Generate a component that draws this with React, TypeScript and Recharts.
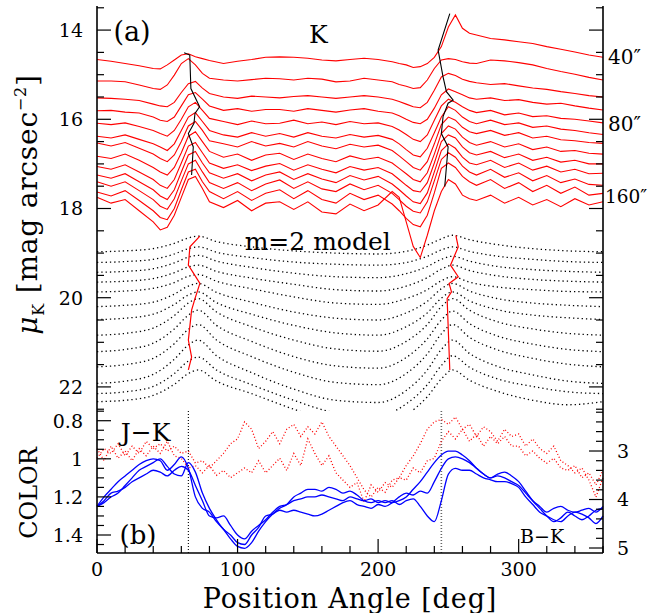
import React from "react";
import { ComposedChart, Line, XAxis, YAxis, ReferenceDot, ReferenceLine, Label } from "recharts";

const SERIF = '"DejaVu Serif", "Liberation Serif", serif';

// ---- panel (a): K-band surface brightness profiles, radii 40" .. 160" (step 10")
const kAngles = [
  0, 10, 20, 30, 40,
  45, 50, 55, 60, 65, 70, 75, 80,
  90, 100, 110, 120, 130, 140, 150, 160, 170, 180, 190, 200, 210,
  215, 220, 225, 230, 235, 240, 245, 250, 255, 260, 265, 270,
  280, 290, 300, 310, 320, 330, 340, 350, 360,
];

const k40 = [14.66, 14.7, 14.75, 14.8, 14.86,
  14.87, 14.78, 14.67, 14.56, 14.53, 14.6, 14.64, 14.68,
  14.75, 14.7, 14.66, 14.61, 14.6, 14.61, 14.63, 14.67, 14.69, 14.66, 14.63, 14.66, 14.71,
  14.75, 14.78, 14.84, 14.82, 14.75, 14.61, 14.37, 13.93, 13.66, 13.96, 14.07, 14.11,
  14.19, 14.22, 14.26, 14.3, 14.37, 14.43, 14.49, 14.56, 14.61];
const k50 = [15.14, 15.14, 15.16, 15.23, 15.31,
  15.33, 15.23, 15.01, 14.75, 14.64, 14.78, 14.97, 15.08,
  15.12, 15.14, 15.11, 15.08, 15.09, 15.12, 15.08, 15.1, 15.16, 15.14, 15.08, 15.12, 15.16,
  15.22, 15.26, 15.31, 15.29, 15.12, 14.86, 14.67, 14.64, 14.66, 14.71, 14.74, 14.75,
  14.67, 14.69, 14.73, 14.78, 14.86, 14.93, 14.99, 15.06, 15.12];
const k60 = [15.52, 15.53, 15.55, 15.58, 15.66,
  15.7, 15.72, 15.62, 15.4, 15.2, 15.15, 15.3, 15.42,
  15.5, 15.53, 15.48, 15.5, 15.52, 15.49, 15.47, 15.5, 15.53, 15.5, 15.47, 15.5, 15.55,
  15.6, 15.66, 15.72, 15.74, 15.62, 15.35, 15.05, 14.97, 15.02, 15.1, 15.15, 15.18,
  15.22, 15.2, 15.25, 15.3, 15.33, 15.38, 15.42, 15.47, 15.5];
const k70 = [15.81, 15.8, 15.84, 15.86, 15.95,
  16.02, 16.05, 15.95, 15.7, 15.45, 15.4, 15.55, 15.7,
  15.8, 15.76, 15.82, 15.78, 15.78, 15.82, 15.76, 15.8, 15.84, 15.79, 15.76, 15.82, 15.86,
  15.92, 16.0, 16.07, 16.1, 16.0, 15.75, 15.45, 15.32, 15.38, 15.45, 15.52, 15.55,
  15.52, 15.58, 15.56, 15.62, 15.66, 15.64, 15.7, 15.75, 15.79];
const k80 = [16.09, 16.12, 16.08, 16.16, 16.25,
  16.32, 16.38, 16.25, 16.0, 15.72, 15.62, 15.8, 15.98,
  16.05, 16.12, 16.04, 16.1, 16.09, 16.02, 16.1, 16.06, 16.12, 16.05, 16.1, 16.08, 16.16,
  16.24, 16.34, 16.45, 16.5, 16.35, 16.02, 15.7, 15.55, 15.62, 15.72, 15.8, 15.85,
  15.8, 15.9, 15.86, 15.94, 15.92, 15.98, 16.0, 16.04, 16.08];
const k90 = [16.38, 16.42, 16.35, 16.45, 16.55,
  16.62, 16.7, 16.55, 16.25, 15.95, 15.85, 16.05, 16.25,
  16.35, 16.4, 16.3, 16.38, 16.32, 16.4, 16.3, 16.38, 16.42, 16.34, 16.4, 16.36, 16.45,
  16.55, 16.68, 16.8, 16.84, 16.65, 16.3, 15.95, 15.72, 15.8, 15.95, 16.05, 16.1,
  16.02, 16.12, 16.08, 16.18, 16.15, 16.22, 16.25, 16.3, 16.34];
const k100 = [16.53, 16.6, 16.52, 16.65, 16.78,
  16.88, 16.95, 16.8, 16.5, 16.15, 16.05, 16.25, 16.48,
  16.55, 16.62, 16.5, 16.6, 16.54, 16.62, 16.5, 16.6, 16.66, 16.56, 16.62, 16.58, 16.7,
  16.82, 16.95, 17.08, 17.14, 16.95, 16.55, 16.12, 15.95, 16.02, 16.18, 16.28, 16.32,
  16.25, 16.36, 16.3, 16.42, 16.38, 16.46, 16.48, 16.52, 16.54];
const k110 = [16.83, 16.88, 16.78, 16.92, 17.08,
  17.18, 17.25, 17.08, 16.75, 16.38, 16.28, 16.5, 16.72,
  16.85, 16.78, 16.92, 16.8, 16.76, 16.9, 16.78, 16.88, 16.95, 16.82, 16.9, 16.85, 16.98,
  17.1, 17.22, 17.35, 17.4, 17.2, 16.78, 16.32, 16.15, 16.22, 16.4, 16.52, 16.58,
  16.5, 16.62, 16.55, 16.68, 16.62, 16.72, 16.7, 16.76, 16.78];
const k120 = [17.06, 17.12, 17.02, 17.18, 17.35,
  17.48, 17.55, 17.35, 16.98, 16.6, 16.52, 16.75, 16.98,
  17.1, 17.02, 17.15, 17.05, 16.99, 17.14, 17.02, 17.12, 17.2, 17.06, 17.14, 17.08, 17.22,
  17.35, 17.48, 17.6, 17.63, 17.42, 16.98, 16.5, 16.35, 16.42, 16.62, 16.75, 16.8,
  16.72, 16.86, 16.78, 16.92, 16.85, 16.96, 16.92, 17.0, 17.0];
const k130 = [17.25, 17.32, 17.22, 17.4, 17.58,
  17.72, 17.8, 17.58, 17.18, 16.8, 16.72, 16.98, 17.2,
  17.32, 17.22, 17.38, 17.25, 17.18, 17.35, 17.22, 17.34, 17.42, 17.26, 17.36, 17.28, 17.45,
  17.58, 17.72, 17.85, 17.89, 17.65, 17.18, 16.7, 16.55, 16.65, 16.85, 16.98, 17.02,
  16.92, 17.08, 16.98, 17.14, 17.05, 17.18, 17.12, 17.22, 17.21];
const k140 = [17.4, 17.5, 17.4, 17.6, 17.8,
  17.95, 18.02, 17.78, 17.38, 17.0, 16.92, 17.18, 17.42,
  17.55, 17.42, 17.6, 17.45, 17.36, 17.55, 17.4, 17.56, 17.62, 17.45, 17.58, 17.48, 17.66,
  17.8, 17.95, 18.06, 18.1, 17.85, 17.38, 16.9, 16.75, 16.85, 17.05, 17.18, 17.25,
  17.12, 17.3, 17.2, 17.38, 17.26, 17.42, 17.34, 17.46, 17.48];
const k150 = [17.63, 17.72, 17.6, 17.82, 18.05,
  18.2, 18.25, 18.0, 17.58, 17.18, 17.12, 17.4, 17.62,
  17.78, 17.62, 17.82, 17.66, 17.58, 17.78, 17.6, 17.8, 17.88, 17.66, 17.8, 17.7, 17.9,
  18.05, 18.22, 18.36, 18.41, 18.15, 17.65, 17.1, 16.98, 17.08, 17.28, 17.4, 17.48,
  17.35, 17.55, 17.42, 17.62, 17.48, 17.66, 17.52, 17.7, 17.66];
const k160 = [17.75, 17.88, 17.8, 18.05, 18.3,
  18.48, 18.42, 18.15, 17.75, 17.35, 17.28, 17.55, 17.85,
  17.98, 17.82, 18.05, 17.88, 17.85, 18.02, 17.85, 18.08, 18.12, 17.9, 18.05, 17.92, 17.62,
  17.75, 18.3, 18.85, 19.1, 18.6, 18.05, 17.62, 17.35, 17.45, 17.7, 17.78, 17.82,
  17.7, 17.88, 17.75, 17.92, 17.8, 17.96, 17.78, 17.92, 17.85];
const kProfiles = [k40, k50, k60, k70, k80, k90, k100, k110, k120, k130, k140, k150, k160];

// m=2 model profiles (dotted)
const mAngles = [0, 20, 40, 55, 65, 72, 85, 110, 140, 170, 200, 220, 235, 245, 253, 265, 285, 310, 335, 360];
const m40 = [18.97, 18.95, 18.9, 18.78, 18.66, 18.62, 18.74, 18.86, 18.95, 19.0, 19.02, 18.96, 18.82, 18.68, 18.6, 18.7, 18.81, 18.9, 18.95, 18.97];
const m50 = [19.21, 19.19, 19.14, 19.02, 18.9, 18.86, 18.98, 19.1, 19.2, 19.25, 19.27, 19.21, 19.07, 18.93, 18.86, 18.96, 19.07, 19.14, 19.19, 19.21];
const m60 = [19.43, 19.41, 19.35, 19.22, 19.09, 19.05, 19.18, 19.32, 19.45, 19.53, 19.55, 19.46, 19.3, 19.14, 19.07, 19.18, 19.3, 19.37, 19.41, 19.43];
const m70 = [19.65, 19.63, 19.57, 19.44, 19.31, 19.27, 19.41, 19.56, 19.7, 19.82, 19.85, 19.74, 19.55, 19.36, 19.27, 19.39, 19.51, 19.59, 19.63, 19.65];
const m80 = [19.87, 19.85, 19.79, 19.66, 19.52, 19.48, 19.63, 19.8, 19.98, 20.12, 20.15, 20.02, 19.82, 19.62, 19.53, 19.65, 19.76, 19.82, 19.86, 19.87];
const m90 = [20.2, 20.17, 20.1, 19.92, 19.74, 19.68, 19.88, 20.1, 20.32, 20.46, 20.5, 20.34, 20.08, 19.8, 19.68, 19.85, 20.02, 20.12, 20.17, 20.2];
const m100 = [20.49, 20.46, 20.37, 20.15, 19.94, 19.87, 20.11, 20.37, 20.62, 20.79, 20.84, 20.65, 20.34, 20.01, 19.87, 20.07, 20.27, 20.39, 20.45, 20.49];
const m110 = [20.84, 20.8, 20.68, 20.4, 20.12, 20.02, 20.32, 20.65, 20.95, 21.15, 21.2, 20.98, 20.6, 20.2, 20.02, 20.28, 20.54, 20.7, 20.8, 20.84];
const m120 = [21.21, 21.16, 21.02, 20.7, 20.39, 20.28, 20.62, 20.98, 21.32, 21.53, 21.58, 21.34, 20.92, 20.5, 20.3, 20.58, 20.86, 21.04, 21.16, 21.21];
const m130 = [21.55, 21.5, 21.36, 21.03, 20.71, 20.6, 20.95, 21.32, 21.67, 21.9, 21.95, 21.7, 21.26, 20.81, 20.6, 20.89, 21.17, 21.36, 21.49, 21.55];
const m140 = [21.92, 21.87, 21.72, 21.38, 21.06, 20.95, 21.3, 21.68, 22.05, 22.3, 22.35, 22.08, 21.62, 21.16, 20.95, 21.25, 21.54, 21.73, 21.87, 21.92];
const m150 = [22.15, 22.11, 21.99, 21.7, 21.42, 21.33, 21.62, 21.95, 22.3, 22.58, 22.65, 22.38, 21.95, 21.52, 21.3, 21.56, 21.82, 21.99, 22.11, 22.15];
const m160 = [22.33, 22.3, 22.19, 21.94, 21.7, 21.62, 21.87, 22.15, 22.5, 22.8, 22.9, 22.63, 22.22, 21.82, 21.62, 21.85, 22.1, 22.3, 22.4, 22.33];
const mProfiles = [m40, m50, m60, m70, m80, m90, m100, m110, m120, m130, m140, m150, m160];

// arm peak tracks
const kPeakLeftA = [62, 66, 66.8, 73, 69.7, 69, 65, 68.5, 67.3];
const kPeakLeftV = [14.51, 14.56, 15.31, 15.72, 15.87, 16.09, 16.32, 16.62, 17.25];
const kPeakRightA = [251, 242.7, 246.2, 248.6, 253.4, 249.8, 246.2, 245, 249.8, 247.4];
const kPeakRightV = [13.63, 14.45, 15.05, 15.38, 15.57, 15.64, 15.94, 16.32, 16.62, 17.51];
const mPeakLeftA = [73.2, 66.1, 65, 73.2, 69.7, 67.3, 65, 67.3, 65];
const mPeakLeftV = [18.62, 18.86, 19.27, 19.68, 20.02, 20.28, 20.95, 21.33, 21.62];
const mPeakRightA = [255.3, 257, 251.5, 257, 250.5, 252.2, 249.1, 251];
const mPeakRightV = [18.6, 18.86, 19.27, 19.53, 19.68, 19.87, 20.02, 21.62];

// ---- panel (b): colour profiles
const cAngles = [
  0, 5, 10, 15, 20, 25, 30, 35, 40, 45, 50, 55,
  60, 65, 70, 75, 80, 85, 90, 95, 100, 105, 110, 115,
  120, 125, 130, 135, 140, 145, 150, 155, 160, 165, 170, 175,
  180, 185, 190, 195, 200, 205, 210, 215, 220, 225, 230, 235,
  240, 245, 250, 255, 260, 265, 270, 275, 280, 285, 290, 295,
  300, 305, 310, 315, 320, 325, 330, 335, 340, 345, 350, 355,
  360,
];
const jk1 = [1.25, 1.2, 1.16, 1.12, 1.09, 1.06, 1.03, 1.01, 1.0, 1.01, 1.06, 1.03,
  0.99, 1.05, 1.2, 1.26, 1.28, 1.33, 1.37, 1.42, 1.46, 1.47, 1.44, 1.38,
  1.33, 1.29, 1.26, 1.24, 1.2, 1.18, 1.16, 1.16, 1.17, 1.15, 1.16, 1.18,
  1.17, 1.19, 1.22, 1.23, 1.22, 1.23, 1.22, 1.24, 1.22, 1.21, 1.25, 1.3,
  1.33, 1.22, 1.08, 1.05, 1.06, 1.06, 1.08, 1.1, 1.11, 1.12, 1.12, 1.13,
  1.15, 1.2, 1.24, 1.28, 1.3, 1.32, 1.33, 1.3, 1.28, 1.29, 1.31, 1.34,
  1.3];
const jk2 = [1.25, 1.22, 1.18, 1.17, 1.15, 1.12, 1.1, 1.08, 1.06, 1.07, 1.09, 1.06,
  1.04, 1.06, 1.14, 1.22, 1.3, 1.31, 1.3, 1.35, 1.4, 1.42, 1.38, 1.35,
  1.32, 1.28, 1.25, 1.24, 1.22, 1.21, 1.2, 1.2, 1.19, 1.2, 1.21, 1.22,
  1.2, 1.21, 1.22, 1.21, 1.23, 1.22, 1.23, 1.22, 1.2, 1.16, 1.12, 1.07,
  1.02, 0.98, 0.96, 0.96, 0.98, 1.01, 1.05, 1.08, 1.1, 1.09, 1.1, 1.12,
  1.14, 1.18, 1.22, 1.25, 1.28, 1.26, 1.25, 1.27, 1.28, 1.27, 1.26, 1.28,
  1.25];
const jk3 = [1.25, 1.23, 1.2, 1.18, 1.14, 1.1, 1.06, 1.04, 1.02, 1.0, 1.04, 1.08,
  1.09, 1.02, 1.07, 1.18, 1.26, 1.32, 1.37, 1.4, 1.44, 1.45, 1.4, 1.36,
  1.3, 1.29, 1.27, 1.28, 1.27, 1.28, 1.29, 1.3, 1.29, 1.27, 1.25, 1.23,
  1.22, 1.24, 1.25, 1.26, 1.24, 1.25, 1.23, 1.2, 1.18, 1.19, 1.17, 1.18,
  1.12, 1.05, 1.0, 0.99, 1.0, 1.02, 1.05, 1.08, 1.1, 1.08, 1.07, 1.09,
  1.12, 1.17, 1.22, 1.26, 1.3, 1.33, 1.31, 1.28, 1.3, 1.32, 1.3, 1.27,
  1.26];
const bk1 = [3.15, 2.95, 3.05, 2.85, 3.1, 2.9, 3.05, 2.8, 2.95, 2.85, 3.0, 2.9,
  3.05, 3.0, 3.25, 3.2, 3.35, 3.2, 3.05, 2.85, 2.75, 2.4, 2.55, 2.95,
  2.8, 2.6, 2.85, 2.55, 2.45, 2.7, 2.5, 2.65, 2.4, 2.7, 2.9, 3.1,
  3.3, 3.55, 3.8, 3.95, 3.75, 3.85, 3.6, 3.55, 3.3, 3.1, 2.85, 2.55,
  2.4, 2.35, 2.45, 2.3, 2.55, 2.45, 2.7, 2.5, 2.6, 2.8, 2.55, 2.7,
  2.65, 2.9, 2.75, 2.95, 3.05, 2.9, 3.2, 3.3, 3.45, 3.35, 3.6, 3.95,
  3.55];
const bk2 = [2.95, 3.2, 2.9, 3.15, 3.0, 3.2, 2.95, 3.1, 2.9, 3.05, 2.8, 3.1,
  3.15, 3.35, 3.3, 3.45, 3.3, 3.5, 3.4, 3.55, 3.45, 3.35, 3.45, 3.2,
  3.45, 3.3, 3.15, 3.4, 3.05, 3.3, 2.75, 3.05, 3.3, 3.1, 3.45, 3.6,
  3.75, 3.65, 4.05, 3.7, 3.85, 3.65, 3.75, 3.55, 3.6, 3.35, 3.45, 3.2,
  3.15, 2.8, 2.6, 2.75, 2.55, 2.8, 2.65, 2.9, 2.7, 2.85, 2.7, 2.9,
  2.9, 3.1, 3.0, 3.15, 3.25, 3.15, 3.35, 3.4, 3.3, 3.55, 3.45, 3.7,
  3.4];
const armAngles = [65, 245];

// ---- axes
const xMajor = [0, 100, 200, 300];
const xTicks = [0, 20, 40, 60, 80, 100, 120, 140, 160, 180, 200, 220, 240, 260, 280, 300, 320, 340, 360];
const muMajor = [14, 16, 18, 20, 22];
const muTicks = [13.5, 14, 14.5, 15, 15.5, 16, 16.5, 17, 17.5, 18, 18.5, 19, 19.5, 20, 20.5, 21, 21.5, 22, 22.5];
const jkMajor = [0.8, 1, 1.2, 1.4];
const jkTicks = [0.75, 0.8, 0.85, 0.9, 0.95, 1, 1.05, 1.1, 1.15, 1.2, 1.25, 1.3, 1.35, 1.4, 1.45];
const bkMajor = [3, 4, 5];
const bkTicks = [2.2, 2.4, 2.6, 2.8, 3, 3.2, 3.4, 3.6, 3.8, 4, 4.2, 4.4, 4.6, 4.8, 5];

const pts = (xs: number[], ys: number[]) => xs.map((a, i) => ({ a, v: ys[i] }));

type Side = "left" | "right" | "top" | "bottom";

// inward-pointing ticks, long for majors, short for minors
function inTick(side: Side, majors: number[], labelled: boolean) {
  return (p: any) => {
    const { x, y, payload } = p;
    const v = payload.value as number;
    const major = majors.some((m) => Math.abs(m - v) < 1e-6);
    const len = major ? 14 : 7;
    const dx = side === "left" ? len : side === "right" ? -len : 0;
    const dy = side === "top" ? len : side === "bottom" ? -len : 0;
    let label = null;
    if (labelled && major) {
      const txt = String(Number(v.toFixed(2)));
      if (side === "left")
        label = <text x={x - 14} y={y} dy="0.36em" textAnchor="end" fontSize={19}>{txt}</text>;
      else if (side === "right")
        label = <text x={x + 14} y={y} dy="0.36em" textAnchor="start" fontSize={19}>{txt}</text>;
      else label = <text x={x} y={y + 23} textAnchor="middle" fontSize={19}>{txt}</text>;
    }
    return (
      <g>
        <line x1={x} y1={y} x2={x + dx} y2={y + dy} stroke="#000" strokeWidth={1.2} />
        {label}
      </g>
    );
  };
}

const frame = { stroke: "#000", strokeWidth: 1.6 };

const note = (value: string, size: number, position: any = "center") => ({
  value,
  position,
  fontSize: size,
  fill: "#000",
  fontFamily: SERIF,
});

export default function App() {
  return (
    <div style={{ position: "absolute", left: 0, top: 0, width: 650, height: 613, background: "#fff", fontFamily: SERIF }}>
      <div style={{ position: "absolute", left: 0, top: 0 }}>
        <ComposedChart width={650} height={613} margin={{ top: 6, right: 0, bottom: 202, left: 0 }}>
          <XAxis dataKey="a" type="number" domain={[0, 360]} ticks={xTicks} interval={0} height={0}
            tickSize={0} tickMargin={0} tickLine={false} axisLine={frame} tick={inTick("bottom", xMajor, false)} />
          <XAxis xAxisId="t" orientation="top" dataKey="a" type="number" domain={[0, 360]} ticks={xTicks} interval={0} height={0}
            tickSize={0} tickMargin={0} tickLine={false} axisLine={frame} tick={inTick("top", xMajor, false)} />
          <YAxis type="number" domain={[13.46, 22.54]} reversed allowDataOverflow ticks={muTicks} interval={0} width={97}
            tickSize={0} tickMargin={0} tickLine={false} axisLine={frame} tick={inTick("left", muMajor, true)}>
            <Label
              content={(p: any) => {
                const vb = p.viewBox || { x: 0, y: 6, height: 405 };
                const cx = vb.x + 37;
                const cy = vb.y + vb.height / 2 - 4;
                return (
                  <text transform={`translate(${cx},${cy}) rotate(-90)`} textAnchor="middle" fontSize={28} letterSpacing={0.8} fill="#000">
                    <tspan fontStyle="italic">μ</tspan>
                    <tspan fontSize={16} dy={7}>K</tspan>
                    <tspan dy={-7}> [mag arcsec</tspan>
                    <tspan fontSize={16} dy={-11}>−2</tspan>
                    <tspan dy={11}>]</tspan>
                  </text>
                );
              }}
            />
          </YAxis>
          <YAxis yAxisId="r" orientation="right" type="number" domain={[13.46, 22.54]} reversed allowDataOverflow ticks={muTicks} interval={0} width={47}
            tickSize={0} tickMargin={0} tickLine={false} axisLine={frame} tick={inTick("right", muMajor, false)} />

          {mProfiles.map((m, i) => (
            <Line key={`m${i}`} data={pts(mAngles, m)} dataKey="v" type="monotone" stroke="#000" strokeWidth={1.3}
              strokeDasharray="1.3 3" dot={false} activeDot={false} isAnimationActive={false} />
          ))}
          {kProfiles.map((k, i) => (
            <Line key={`k${i}`} data={pts(kAngles, k)} dataKey="v" type="linear" stroke="#ff0000" strokeWidth={1.1}
              dot={false} activeDot={false} isAnimationActive={false} />
          ))}
          <Line data={pts(kPeakLeftA, kPeakLeftV)} dataKey="v" type="linear" stroke="#000" strokeWidth={1.1} dot={false} activeDot={false} isAnimationActive={false} />
          <Line data={pts(kPeakRightA, kPeakRightV)} dataKey="v" type="linear" stroke="#000" strokeWidth={1.1} dot={false} activeDot={false} isAnimationActive={false} />
          <Line data={pts(mPeakLeftA, mPeakLeftV)} dataKey="v" type="linear" stroke="#ff0000" strokeWidth={1.2} dot={false} activeDot={false} isAnimationActive={false} />
          <Line data={pts(mPeakRightA, mPeakRightV)} dataKey="v" type="linear" stroke="#ff0000" strokeWidth={1.2} dot={false} activeDot={false} isAnimationActive={false} />

          <ReferenceDot x={24.9} y={14.02} r={0} fill="none" stroke="none" label={note("(a)", 27)} />
          <ReferenceDot x={157.5} y={14.09} r={0} fill="none" stroke="none" label={note("K", 25)} />
          <ReferenceDot x={157} y={18.73} r={0} fill="none" stroke="none" label={note("m=2 model", 25)} />
          <ReferenceDot x={360} y={14.61} r={0} fill="none" stroke="none" label={{ ...note("40″", 20, "right"), offset: 5 }} />
          <ReferenceDot x={360} y={16.11} r={0} fill="none" stroke="none" label={{ ...note("80″", 20, "right"), offset: 5 }} />
          <ReferenceDot x={360} y={17.74} r={0} fill="none" stroke="none" label={{ ...note("160″", 18.5, "right"), offset: 2 }} />
        </ComposedChart>
      </div>

      <div style={{ position: "absolute", left: 0, top: 0 }}>
        <ComposedChart width={650} height={613} margin={{ top: 411, right: 0, bottom: 0, left: 0 }}>
          <XAxis dataKey="a" type="number" domain={[0, 360]} ticks={xTicks} interval={0} height={60}
            tickSize={0} tickMargin={0} tickLine={false} axisLine={frame} tick={inTick("bottom", xMajor, true)}>
            <Label value="Position Angle [deg]" position="insideBottom" offset={5} fontSize={27} letterSpacing={0.9} fill="#000" />
          </XAxis>
          <XAxis xAxisId="t" orientation="top" dataKey="a" type="number" domain={[0, 360]} ticks={xTicks} interval={0} height={0}
            tickSize={0} tickMargin={0} tickLine={false} axisLine={frame} tick={inTick("top", xMajor, false)} />
          <YAxis type="number" domain={[0.749, 1.4945]} reversed allowDataOverflow ticks={jkTicks} interval={0} width={97}
            tickSize={0} tickMargin={0} tickLine={false} axisLine={frame} tick={inTick("left", jkMajor, true)}>
            <Label
              content={(p: any) => {
                const vb = p.viewBox || { x: 0, y: 411, height: 142 };
                const cx = vb.x + 37;
                const cy = vb.y + vb.height / 2 + 11;
                return (
                  <text transform={`translate(${cx},${cy}) rotate(-90)`} textAnchor="middle" fontSize={24} fill="#000">
                    COLOR
                  </text>
                );
              }}
            />
          </YAxis>
          <YAxis yAxisId="bk" orientation="right" type="number" domain={[2.175, 5.103]} reversed allowDataOverflow ticks={bkTicks} interval={0} width={47}
            tickSize={0} tickMargin={0} tickLine={false} axisLine={frame} tick={inTick("right", bkMajor, true)} />

          {armAngles.map((a, i) => (
            <ReferenceLine key={`arm${i}`} x={a} stroke={i === 0 ? "#000" : "#666"} strokeWidth={i === 0 ? 1.1 : 1.6} strokeDasharray="1 2" />
          ))}
          {[bk1, bk2].map((b, i) => (
            <Line key={`bk${i}`} yAxisId="bk" data={pts(cAngles, b)} dataKey="v" type="linear" stroke="#ff0000" strokeWidth={1.3}
              strokeDasharray="1 2.2" dot={false} activeDot={false} isAnimationActive={false} />
          ))}
          {[jk1, jk2, jk3].map((j, i) => (
            <Line key={`jk${i}`} data={pts(cAngles, j)} dataKey="v" type="monotone" stroke="#0000ff" strokeWidth={1.3}
              dot={false} activeDot={false} isAnimationActive={false} />
          ))}

          <ReferenceDot x={34.5} y={0.859} r={0} fill="none" stroke="none" label={note("J−K", 25)} />
          <ReferenceDot x={29.2} y={1.4} r={0} fill="none" stroke="none" label={note("(b)", 26)} />
          <ReferenceDot x={316.7} y={1.408} r={0} fill="none" stroke="none" label={note("B−K", 19)} />
        </ComposedChart>
      </div>
    </div>
  );
}
